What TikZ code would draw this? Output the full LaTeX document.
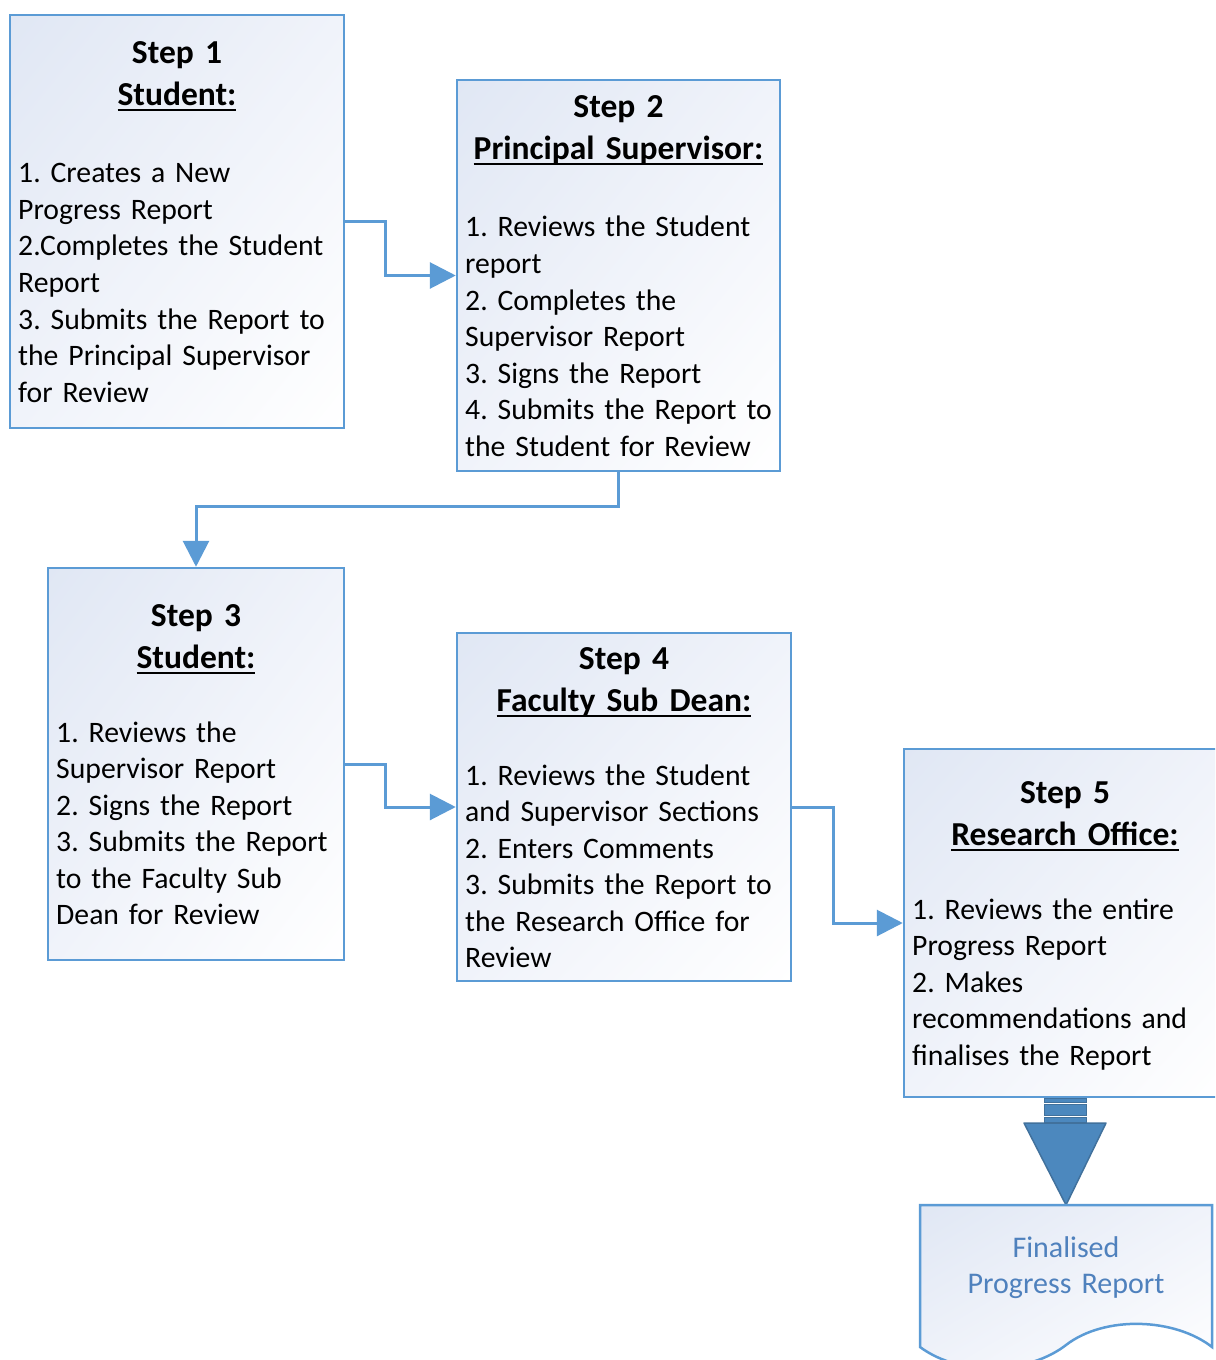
\documentclass[tikz,border=0pt]{standalone}
\usepackage{fontspec}
\setmainfont{Carlito}
\usetikzlibrary{arrows.meta,shadings}
\definecolor{bordc}{RGB}{91,155,213}
\definecolor{connc}{RGB}{91,155,213}
\definecolor{gradA}{RGB}{224,231,244}
\definecolor{gradB}{RGB}{240,243,250}
\definecolor{barrow}{RGB}{76,136,190}
\definecolor{barrowd}{RGB}{65,113,156}
\definecolor{doctext}{RGB}{79,129,189}
\newsavebox\ulbox
\newcommand\myul[1]{\leavevmode\sbox\ulbox{#1}\rlap{\rule[-5.5bp]{\wd\ulbox}{2bp}}\usebox\ulbox}
\tikzset{
  stepbox/.style={draw=bordc, line width=2.5bp, rectangle, inner sep=0pt,
    upper left=gradA, upper right=gradB, lower left=gradB, lower right=white},
  headtxt/.style={font=\fontsize{33.5bp}{42bp}\selectfont\bfseries\frenchspacing, text width=420bp,
    align=center, anchor=base, inner sep=0pt},
  bodytxt/.style={font=\fontsize{29.7bp}{36.5bp}\selectfont\frenchspacing, text width=420bp,
    align=left, anchor=base west, inner sep=0pt},
  conn/.style={draw=connc, line width=3bp, -{Triangle[length=26bp,width=26bp]}},
}
\begin{document}
\begin{tikzpicture}[x=1bp,y=-1bp]
\useasboundingbox (0,0) rectangle (1215,1360);
\clip (0,0) rectangle (1215,1360);
\fill[white] (0,0) rectangle (1215,1360);

% boxes
\node[stepbox, minimum width=334bp, minimum height=413bp] (b1) at (177,221.5) {};
\node[stepbox, minimum width=323bp, minimum height=391bp] (b2) at (618.5,275.5) {};
\node[stepbox, minimum width=296bp, minimum height=392bp] (b3) at (196,764) {};
\node[stepbox, minimum width=334bp, minimum height=348bp] (b4) at (624,807) {};
\node[stepbox, minimum width=322bp, minimum height=348bp] (b5) at (1065,923) {};

% box 1 text
\node[headtxt] (h1) at (177,63.5) {Step 1\\\myul{Student:}};
\node[bodytxt] (t1) at (18,183) {1. Creates a New\\Progress Report\\2.Completes the Student\\Report\\3. Submits the Report to\\the Principal Supervisor\\for Review};
% box 2 text
\node[headtxt] (h2) at (618.5,117.5) {Step 2\\\myul{Principal Supervisor:}};
\node[bodytxt] (t2) at (465,237) {1. Reviews the Student\\report\\2. Completes the\\Supervisor Report\\3. Signs the Report\\4. Submits the Report to\\the Student for Review};
% box 3 text
\node[headtxt] (h3) at (196,626.5) {Step 3\\\myul{Student:}};
\node[bodytxt] (t3) at (56,742) {1. Reviews the\\Supervisor Report\\2. Signs the Report\\3. Submits the Report\\to the Faculty Sub\\Dean for Review};
% box 4 text
\node[headtxt] (h4) at (624,669.5) {Step 4\\\myul{Faculty Sub Dean:}};
\node[bodytxt] (t4) at (465,785) {1. Reviews the Student\\and Supervisor Sections\\2. Enters Comments\\3. Submits the Report to\\the Research Office for\\Review};
% box 5 text
\node[headtxt] (h5) at (1065,803.5) {Step 5\\\myul{Research Office:}};
\node[bodytxt] (t5) at (912,919) {1. Reviews the entire\\Progress Report\\2. Makes\\recommendations and\\finalises the Report};

% connectors
\draw[conn] (b1.east) -- ++(40,0) |- (b2.west);
\draw[conn] (b2.south) -- ++(0,34) -| (b3.north);
\draw[conn] (b3.east) -- ++(40,0) |- (b4.west);
\draw[conn] (b4.east) -- ++(41,0) |- (b5.west);

% block arrow
\path[fill=barrow, draw=barrowd, line width=1bp] (1044,1098) rectangle (1086,1102);
\path[fill=barrow, draw=barrowd, line width=1bp] (1044,1104.5) rectangle (1086,1115);
\path[fill=barrow, draw=barrowd, line width=1bp] (1044,1117.5) rectangle (1086,1122);
\path[fill=barrow, draw=barrowd, line width=1.5bp, line join=round] (1024,1123) -- (1106,1123) -- (1066,1205) -- cycle;

% document
\path[draw=bordc, line width=2.5bp, upper left=gradA, upper right=gradB, lower left=gradB, lower right=white]
  (920,1205) -- (1212,1205) -- (1212,1347)
  .. controls (1175,1318) and (1105,1315) .. (1066,1345)
  .. controls (1030,1373) and (962,1378) .. (920,1347) -- cycle;
\node[font=\fontsize{30bp}{36bp}\selectfont, text=doctext, text width=300bp, align=center, anchor=base, inner sep=0pt] (doc) at (1066,1257) {Finalised\\Progress Report};
\end{tikzpicture}
\end{document}
